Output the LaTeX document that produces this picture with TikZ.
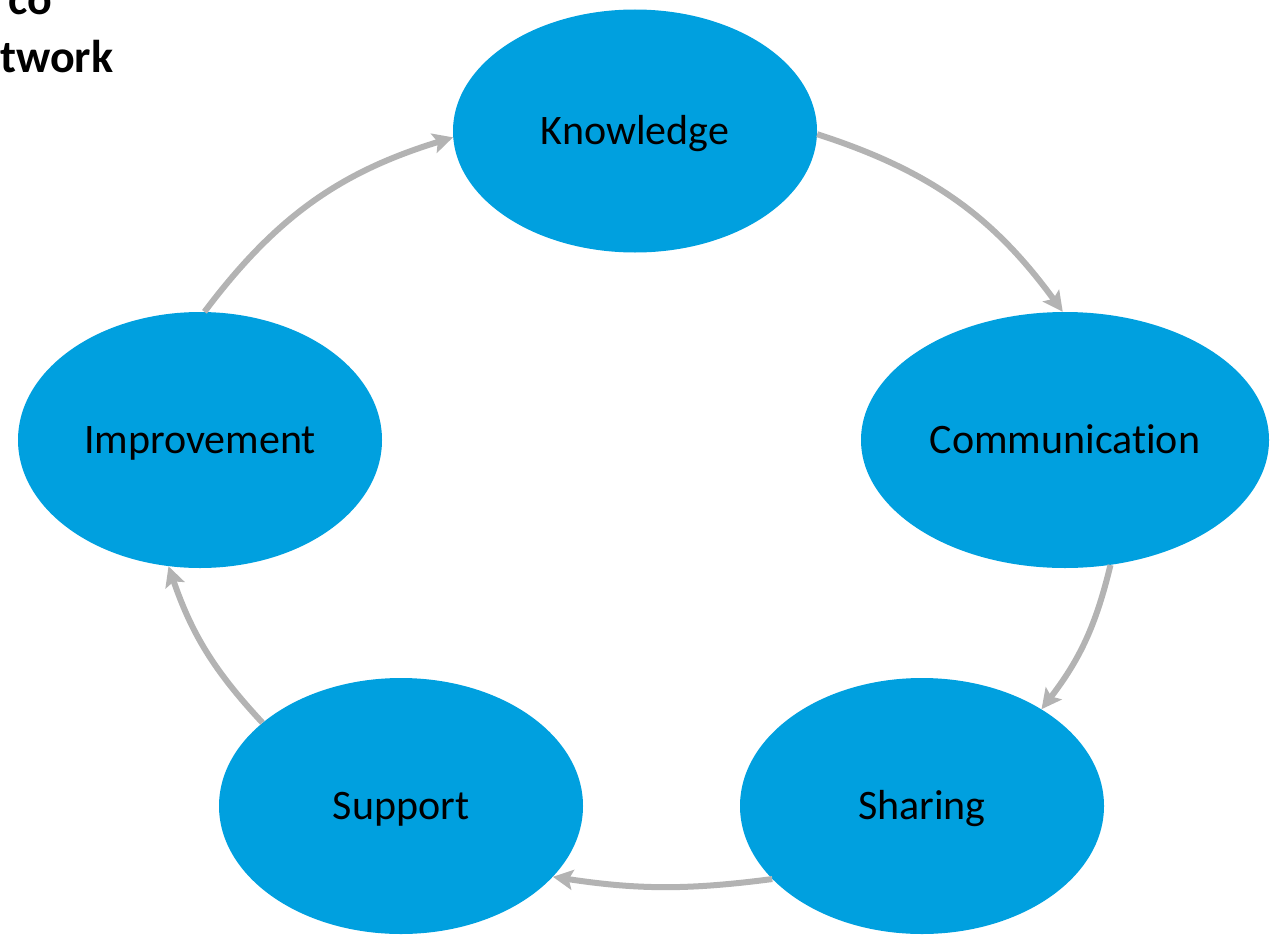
\documentclass[tikz,border=0pt]{standalone}
\usepackage{fontspec}
\setmainfont[Ligatures={NoCommon}]{Carlito}
\usetikzlibrary{shapes.geometric,arrows.meta}
\definecolor{blob}{RGB}{0,160,223}
\definecolor{arr}{RGB}{179,179,179}
\tikzset{
  blobnode/.style={ellipse,fill=blob,draw=none,inner sep=0pt,text height=27pt,text depth=0pt,font=\fontsize{42}{50}\selectfont},
  cyc/.style={draw=arr,line width=6pt,-{Stealth[length=20pt,width=20pt,inset=4pt]}}
}
\begin{document}
\begin{tikzpicture}[x=1pt,y=-1pt]
\useasboundingbox (0,0) rectangle (1279,934);
\node[blobnode,minimum width=364pt,minimum height=243pt] (k) at (635,131) {Knowledge};
\node[blobnode,minimum width=408pt,minimum height=256pt] (c) at (1065,440) {Communication};
\node[blobnode,minimum width=364pt,minimum height=256pt] (i) at (200,440) {Improvement};
\node[blobnode,minimum width=364pt,minimum height=256pt] (su) at (401,806) {Support};
\node[blobnode,minimum width=364pt,minimum height=256pt] (sh) at (922,806) {Sharing};
\node[anchor=base east,font=\fontsize{46}{50}\selectfont\bfseries,inner sep=0pt] (t1) at (52,15) {co};
\node[anchor=base west,font=\fontsize{46}{50}\selectfont\bfseries,inner sep=0pt] (t2) at (0,72) {twork};
\draw[cyc] (k.-1) to[bend left=18] (c.91);
\draw[cyc] (c.-70) to[bend left=12] (sh.39);
\draw[cyc] (sh.-154) to[bend left=8] (su.-25);
\draw[cyc] (su.149) to[bend left=12] (i.-104);
\draw[cyc] (i.88) to[bend left=18] (k.182);
\end{tikzpicture}
\end{document}
